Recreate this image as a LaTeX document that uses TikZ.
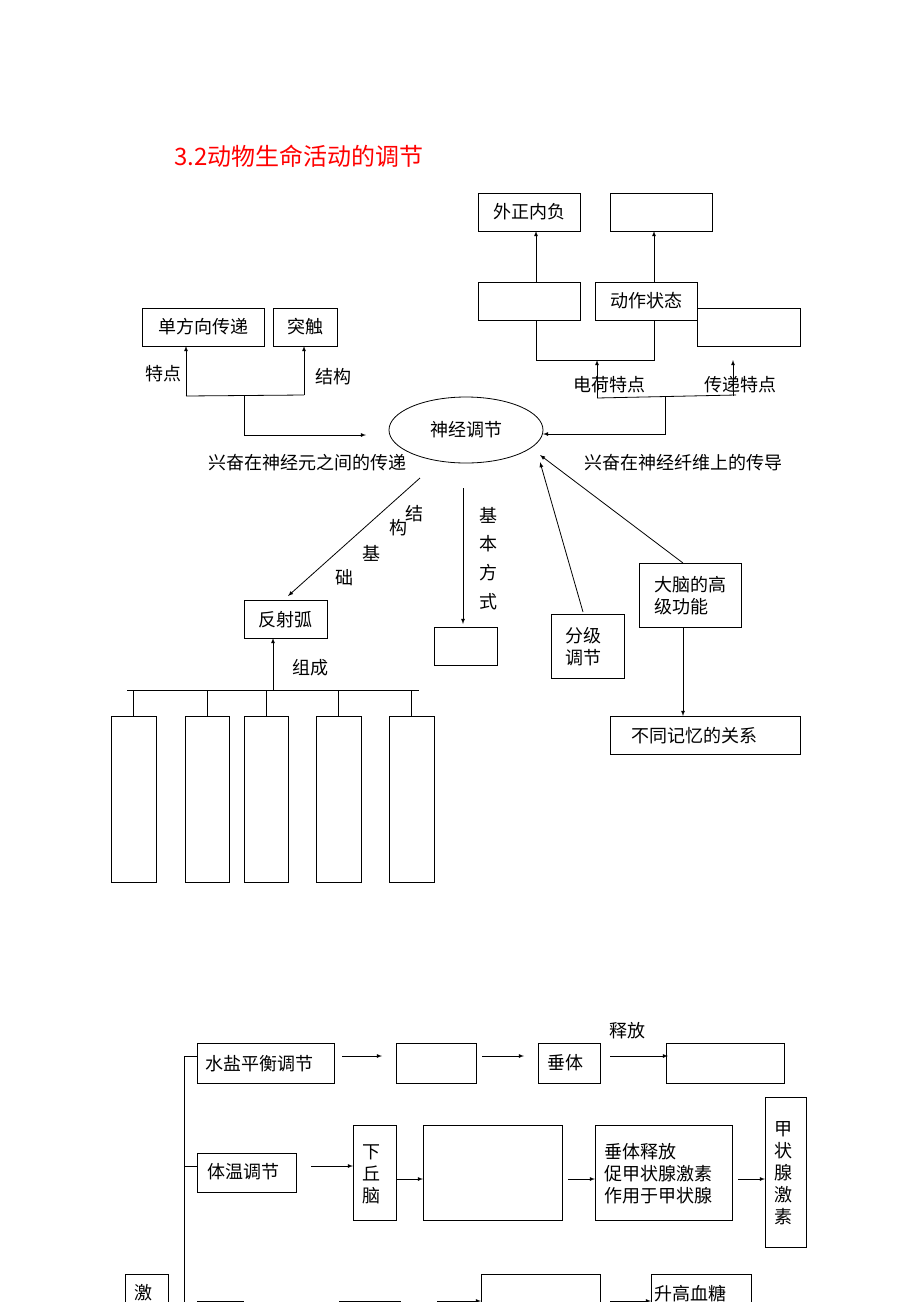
\documentclass[tikz,border=0pt]{standalone}
\usetikzlibrary{shapes.geometric}
\usepackage{fontspec}
\setmainfont{Noto Sans CJK SC}
\begin{document}
\begin{tikzpicture}[x=1pt,y=-1pt,
  t/.style={font=\fontsize{18}{22}\selectfont,inner sep=0pt},
  ar/.style={-latex,thick},
  ln/.style={thick}]
\useasboundingbox (0,0) rectangle (920,1302);
\clip (0,0) rectangle (920,1302);
\node[t,text=red,font=\fontsize{24}{28}\selectfont,anchor=west] (title) at (174,156) {3.2动物生命活动的调节};
% top right
\draw[ln] (478,193) rectangle (580,231); \node[t] (wz) at (529,212) {外正内负};
\draw[ln] (610,193) rectangle (712,231); \coordinate (e1) at (661,212);
\draw[ln] (478,282) rectangle (580,320);
\draw[ln] (595,282) rectangle (697,320); \node[t] (dz) at (646,301) {动作状态};
\draw[ln] (697,308) rectangle (800,346);
\draw[ar] (536,282) -- (536,231);
\draw[ar] (654,282) -- (654,231);
\draw[ln] (536,320) -- (536,360) -- (654,360) -- (654,320);
\draw[ar] (597,398) -- (597,360);
\draw[ar] (733,396) -- (733,360);
\draw[ln] (597,398) -- (736,395);
\node[t] (dh) at (609,385) {电荷特点};
\node[t] (cd) at (740,385) {传递特点};
\node[draw,thick,ellipse,minimum width=154,minimum height=66,t] (sj) at (466,430) {神经调节};
\draw[ar] (665,396) -- (665,434) -- (543,434);
\node[t] (xw) at (683,463) {兴奋在神经纤维上的传导};
\node[t] (xy) at (307,463) {兴奋在神经元之间的传递};
% top left
\draw[ln] (142,308) rectangle (264,346); \node[t] (dfx) at (203,327) {单方向传递};
\draw[ln] (273,308) rectangle (337,346); \node[t] (tc) at (305,327) {突触};
\draw[ar] (186,396) -- (186,346);
\draw[ar] (304,395) -- (304,346);
\draw[ln] (186,396) -- (304,395);
\draw[ar] (244,396) -- (244,435) -- (366,435);
\node[t] (td) at (163,374) {特点};
\node[t] (jg) at (333,377) {结构};
% reflex arc
\draw[ln] (244,600) rectangle (327,638); \node[t] (fs) at (285,620) {反射弧};
\draw[ar] (420,478) -- (288,596);
\node[t] at (414,514) {结}; \node[t] at (398,528) {构};
\node[t] at (371,553) {基}; \node[t] at (344,578) {础};
\draw[ln] (434,627) rectangle (497,665);
\draw[ar] (463,488) -- (463,624);
\node[t] at (488,515) {基}; \node[t] at (488,544) {本}; \node[t] at (488,573) {方}; \node[t] at (488,602) {式};
\draw[ln] (551,614) rectangle (624,678);
\node[t,align=left] (fj) at (583,647) {分级\\调节};
\draw[ar] (583,612) -- (540,462);
\draw[ln] (639,563) rectangle (741,627);
\node[t,align=left] (dn) at (690,596) {大脑的高\\级功能};
\draw[ar] (683,563) -- (540,455);
\draw[ar] (683,627) -- (683,716);
\draw[ln] (610,716) rectangle (800,754); \node[t] (bt) at (694,736) {不同记忆的关系};
\draw[ar] (273,690) -- (273,638);
\node[t] (zc) at (310,668) {组成};
\draw[ln] (127,690) -- (419,690);
\foreach \a/\b in {111/156,185/229,244/288,316/361,389/434}{
  \draw[ln] (\a,716) rectangle (\b,882);
  \draw[ln] ({(\a+\b)/2},690) -- ({(\a+\b)/2},716);}
% bottom
\draw[ln] (197,1043) rectangle (334,1083); \node[t] (ss) at (259,1064) {水盐平衡调节};
\draw[ar] (342,1056) -- (382,1056);
\draw[ln] (396,1043) rectangle (476,1083);
\draw[ar] (482,1056) -- (524,1056);
\draw[ln] (538,1043) rectangle (600,1083); \node[t] (ct) at (565,1063) {垂体};
\draw[ar] (610,1056) -- (668,1056);
\node[t] (sf) at (627,1031) {释放};
\draw[ln] (666,1043) rectangle (784,1083);
\draw[ln] (197,1153) rectangle (296,1192); \node[t] (tw) at (243,1172) {体温调节};
\draw[ar] (311,1166) -- (353,1166);
\draw[ln] (353,1125) rectangle (396,1220);
\node[t,align=center] (xqn) at (371,1174) {下\\丘\\脑};
\draw[ar] (396,1179) -- (423,1179);
\draw[ln] (423,1125) rectangle (562,1220);
\draw[ar] (568,1179) -- (595,1179);
\draw[ln] (595,1125) rectangle (732,1220);
\node[t,align=left,anchor=west] (ctsf) at (604,1174) {垂体释放\\促甲状腺激素\\作用于甲状腺};
\draw[ar] (738,1179) -- (765,1179);
\draw[ln] (765,1097) rectangle (806,1247);
\node[t,align=center] (jzx) at (783,1173) {甲\\状\\腺\\激\\素};
\draw[ln] (184,1056) -- (184,1310);
\draw[ln] (184,1056) -- (197,1056);
\draw[ln] (184,1166) -- (197,1166);
\draw[ln] (125,1274) rectangle (168,1330); \node[t] (ji) at (143,1293) {激};
\draw[ln] (197,1301) rectangle (243,1340);
\draw[ln] (339,1301) rectangle (400,1340);
\draw[ar] (437,1301) -- (481,1301);
\draw[ln] (481,1274) rectangle (600,1340);
\draw[ar] (610,1301) -- (651,1301);
\draw[ln] (651,1274) rectangle (751,1340); \node[t] (sg) at (690,1294) {升高血糖};
\end{tikzpicture}
\end{document}
